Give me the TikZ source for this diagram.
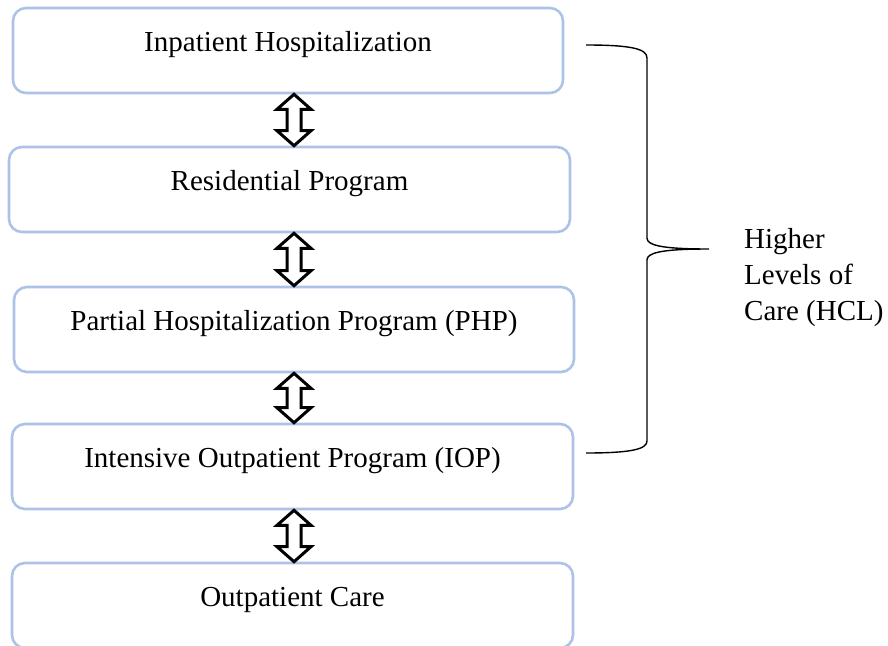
\documentclass[tikz,border=0pt]{standalone}
\usepackage{fontspec}
\setmainfont{Liberation Serif}
\usetikzlibrary{calc}
\definecolor{boxblue}{RGB}{172,194,230}
\tikzset{
  lvlbox/.style={draw=boxblue, line width=2.6pt, rounded corners=13pt, inner sep=0pt,
    minimum height=85pt, text height=43pt, text depth=42pt,
    font=\fontsize{29}{36}\selectfont},
  dblarr/.style={draw=black, line width=3pt, line join=miter, fill=white},
  bracestyle/.style={draw=black, line width=1.4pt},
  hcltext/.style={align=left, inner sep=0pt, font=\fontsize{29}{36}\selectfont}
}
\newcommand\dblarrow[2]{%
  \draw[dblarr] (#1.south -| ax) -- ++(17,15) -- ++(-10,0)
    -- ($(#2.north -| ax)+(7,-15)$) -- ++(10,0) -- (#2.north -| ax)
    -- ++(-17,-15) -- ++(10,0) -- ($(#1.south -| ax)+(-7,15)$) -- ++(-10,0) -- cycle;}
\begin{document}
\begin{tikzpicture}[x=1pt, y=-1pt]
  \useasboundingbox (0,0) rectangle (888,645);
  \coordinate (ax) at (294,0);
  \node[lvlbox, minimum width=550pt] (b1) at (288,50.5) {Inpatient Hospitalization};
  \node[lvlbox, minimum width=561pt] (b2) at (289.5,189.5) {Residential Program};
  \node[lvlbox, minimum width=560pt] (b3) at (294,329.5) {Partial Hospitalization Program (PHP)};
  \node[lvlbox, minimum width=561pt] (b4) at (292.5,466.5) {Intensive Outpatient Program (IOP)};
  \node[lvlbox, minimum width=561pt] (b5) at (292.5,605.5) {Outpatient Care};
  \dblarrow{b1}{b2}
  \dblarrow{b2}{b3}
  \dblarrow{b3}{b4}
  \dblarrow{b4}{b5}
  \coordinate (btop) at (586,45);
  \coordinate (bbot) at (586,453);
  \coordinate (btip) at (709,249);
  \node[hcltext, anchor=base west] (hcl) at (744,320) {Higher\\Levels of\\Care (HCL)};
  \draw[bracestyle] (btop) .. controls (632,45) and (647,49) .. (647,58)
    -- (647,238) .. controls (647,245) and (660,249) .. (btip)
    .. controls (660,249) and (647,253) .. (647,260)
    -- (647,441) .. controls (647,449) and (632,453) .. (bbot);
\end{tikzpicture}
\end{document}
